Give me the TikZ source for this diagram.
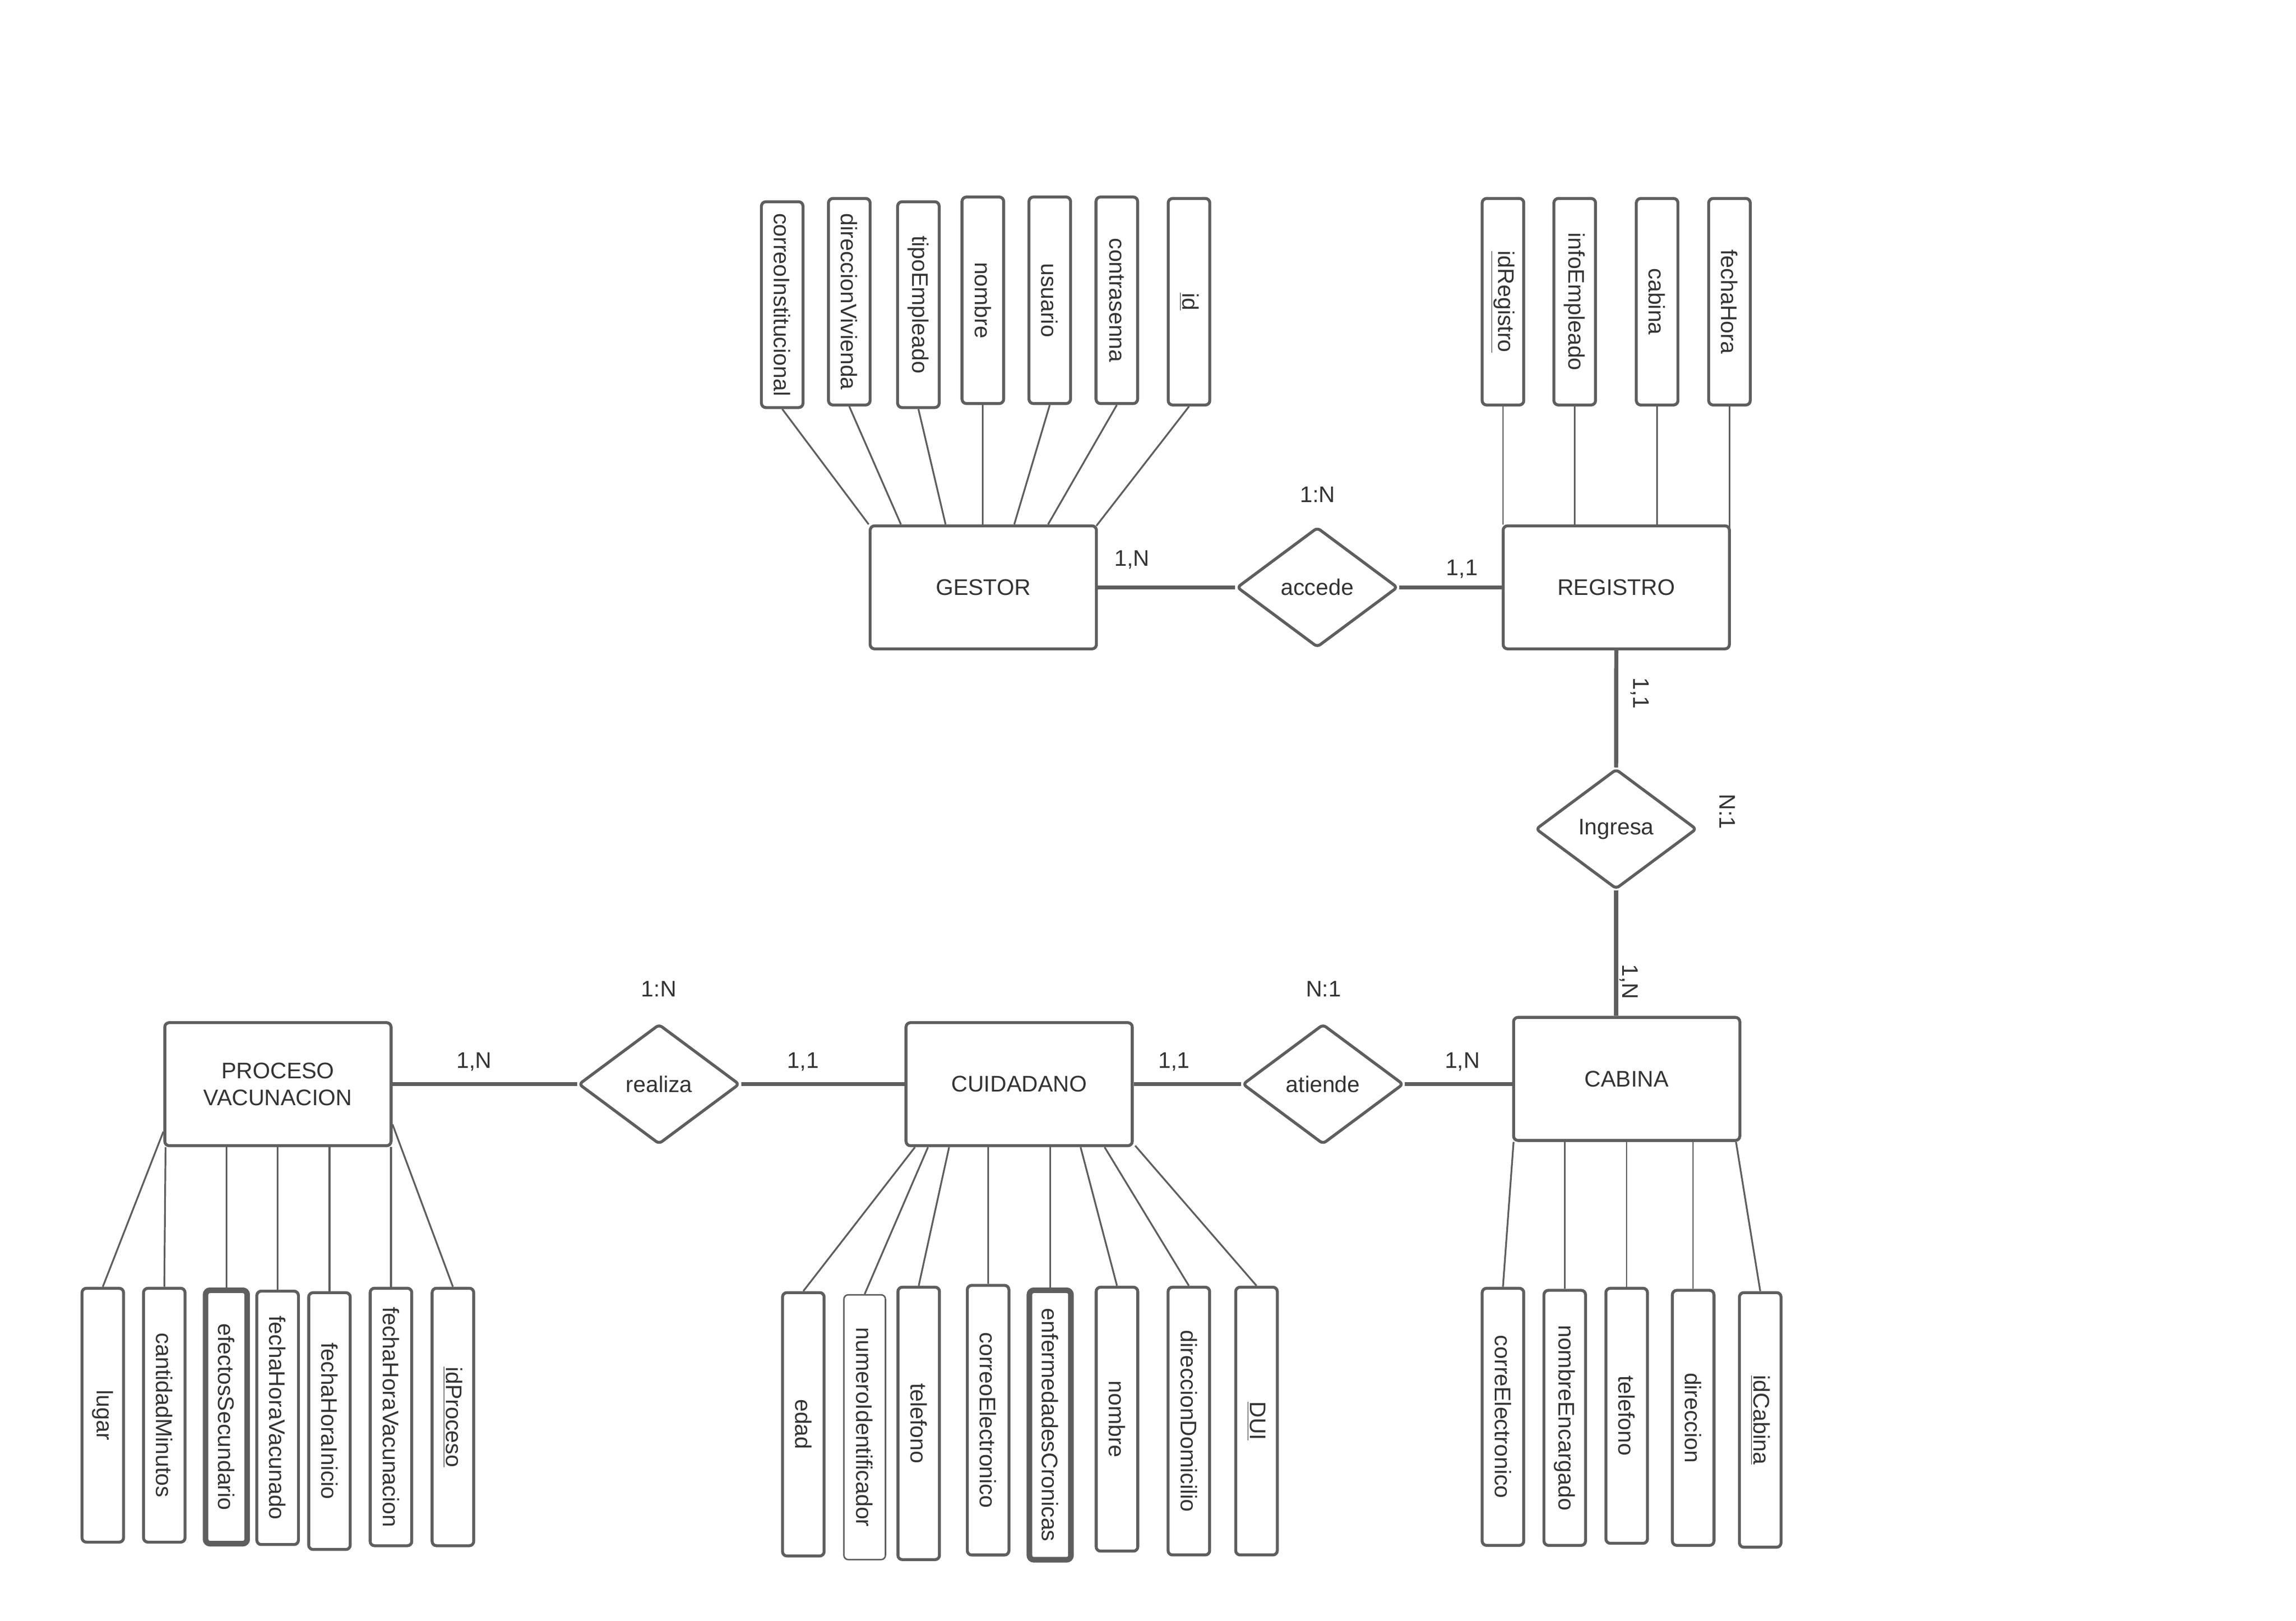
\documentclass[tikz,border=0pt]{standalone}
\usepackage{fontspec}
\setmainfont{Liberation Sans}
\usepackage{graphicx}
\usetikzlibrary{shapes.geometric}
\definecolor{lc}{RGB}{94,94,94}
\definecolor{tc}{RGB}{51,51,51}
\tikzset{
 ent/.style={draw=lc, line width=2pt, rounded corners=3pt, minimum width=154.5pt, minimum height=84pt, inner sep=0pt, align=center, text=tc},
 rel/.style={diamond, draw=lc, line width=2pt, rounded corners=2.5pt, minimum width=110pt, minimum height=82pt, inner sep=0pt, text=tc},
 attr/.style={draw=lc, line width=2pt, rounded corners=3pt, minimum width=28.4pt, inner sep=0pt, text=tc},
 attrk/.style={attr, line width=3.8pt},
 attrl/.style={attr, line width=1pt},
 lnk/.style={draw=lc, line width=1.2pt},
 lnkt/.style={draw=lc, line width=0.9pt},
 rlnk/.style={draw=lc, line width=2.8pt},
 card/.style={text=tc, inner sep=0pt},
}
\begin{document}
\begin{tikzpicture}[x=1pt,y=-1pt, font=\fontsize{15.4}{18.5}\selectfont]
\fill[white] (0,0) rectangle (1568,1106.5);
\useasboundingbox (0,0) rectangle (1568,1106.5);

% entities
\node[ent] (gestor) at (671.5,401) {GESTOR};
\node[ent] (registro) at (1103.8,401) {REGISTRO};
\node[ent] (cabina) at (1110.9,736.6) {CABINA};
\node[ent] (cuidadano) at (696,740.2) {CUIDADANO};
\node[ent] (proceso) at (189.8,740.2) {PROCESO\\VACUNACION};

% relationships
\node[rel] (accede) at (899.6,401) {accede};
\node[rel] (ingresa) at (1103.7,566) {Ingresa};
\node[rel] (realiza) at (450.1,740.2) {realiza};
\node[rel] (atiende) at (903.5,740.2) {atiende};

% relationship connectors
\draw[rlnk] (gestor.east) -- (accede.west);
\draw[rlnk] (accede.east) -- (registro.west);
\draw[rlnk] (registro.south) -- (ingresa.north);
\draw[rlnk] (ingresa.south) -- (ingresa.south |- cabina.north);
\draw[rlnk] (proceso.east) -- (realiza.west);
\draw[rlnk] (realiza.east) -- (cuidadano.west);
\draw[rlnk] (cuidadano.east) -- (atiende.west);
\draw[rlnk] (atiende.east) -- (atiende.east -| cabina.west);

% cardinalities
\node[card] (k1) at (773,382) {1,N};
\node[card] (k2) at (899.9,337.8) {1:N};
\node[card] (k3) at (998.5,388.4) {1,1};
\node[card, rotate=-90] (k4) at (1120,473.3) {1,1};
\node[card, rotate=-90] (k5) at (1179.8,554.2) {N:1};
\node[card, rotate=-90] (k6) at (1112.5,670.3) {1,N};
\node[card] (k7) at (450,675) {1:N};
\node[card] (k8) at (903.9,675) {N:1};
\node[card] (k9) at (323.9,725.1) {1,N};
\node[card] (k10) at (548.4,725.1) {1,1};
\node[card] (k11) at (801.9,725.1) {1,1};
\node[card] (k12) at (998.7,725) {1,N};

% GESTOR attributes
\node[attr, minimum height=140.5pt] (g1) at (534.2,208) {\rotatebox{-90}{correoInstitucional}};
\node[attr, minimum height=141pt] (g2) at (580,206) {\rotatebox{-90}{direccionVivienda}};
\node[attr, minimum height=140.5pt] (g3) at (627.2,208) {\rotatebox{-90}{tipoEmpleado}};
\node[attr, minimum height=141pt] (g4) at (671.2,205) {\rotatebox{-90}{nombre}};
\node[attr, minimum height=141pt] (g5) at (716.9,205) {\rotatebox{-90}{usuario}};
\node[attr, minimum height=141pt] (g6) at (762.7,205) {\rotatebox{-90}{contrasenna}};
\node[attr, minimum height=141pt] (g7) at (812,206) {\rotatebox{-90}{\underline{id}}};
\draw[lnk] (g1.south) -- (gestor.north west);
\draw[lnk] (g2.south) -- ([xshift=22pt]gestor.north west);
\draw[lnk] (g3.south) -- ([xshift=52.5pt]gestor.north west);
\draw[lnk] (g4.south) -- (g4.south |- gestor.north);
\draw[lnk] (g5.south) -- ([xshift=99.4pt]gestor.north west);
\draw[lnk] (g6.south) -- ([xshift=122.5pt]gestor.north west);
\draw[lnk] (g7.south) -- ([xshift=-1pt,yshift=-1pt]gestor.north east);

% REGISTRO attributes
\node[attr, minimum height=141pt] (r1) at (1026.4,206) {\rotatebox{-90}{\underline{idRegistro}}};
\node[attr, minimum height=141pt] (r2) at (1075.4,206) {\rotatebox{-90}{infoEmpleado}};
\node[attr, minimum height=141pt] (r3) at (1131.7,206) {\rotatebox{-90}{cabina}};
\node[attr, minimum height=141pt] (r4) at (1181.1,206) {\rotatebox{-90}{fechaHora}};
\draw[lnkt] (r1.south) -- (r1.south |- registro.north);
\draw[lnkt] (r2.south) -- (r2.south |- registro.north);
\draw[lnkt] (r3.south) -- (r3.south |- registro.north);
\draw[lnkt] (r4.south) -- ([yshift=-4pt]r4.south |- registro.north);

% CABINA attributes
\node[attr, minimum height=175.5pt] (c1) at (1026.4,967.3) {\rotatebox{-90}{correElectronico}};
\node[attr, minimum height=174.1pt] (c2) at (1068.6,968) {\rotatebox{-90}{nombreEncargado}};
\node[attr, minimum height=174.1pt] (c3) at (1110.9,966.6) {\rotatebox{-90}{telefono}};
\node[attr, minimum height=174.1pt] (c4) at (1156.3,968) {\rotatebox{-90}{direccion}};
\node[attr, minimum height=173.8pt] (c5) at (1202.1,969.4) {\rotatebox{-90}{\underline{idCabina}}};
\draw[lnk] (c1.north) -- ([xshift=1pt]cabina.south west);
\draw[lnkt] (c2.north) -- (c2.north |- cabina.south);
\draw[lnkt] (c3.north) -- (c3.north |- cabina.south);
\draw[lnkt] (c4.north) -- (c4.north |- cabina.south);
\draw[lnk] (c5.north) -- ([xshift=-3.6pt]cabina.south east);

% CUIDADANO attributes
\node[attr, minimum height=179.8pt] (u1) at (548.6,972.4) {\rotatebox{-90}{edad}};
\node[attrl, minimum height=180.8pt] (u2) at (590.5,974.4) {\rotatebox{-90}{numeroIdentificador}};
\node[attr, minimum height=186pt] (u3) at (627.4,971.8) {\rotatebox{-90}{telefono}};
\node[attr, minimum height=184.1pt] (u4) at (674.8,969.6) {\rotatebox{-90}{correoElectronico}};
\node[attrk, minimum height=184pt] (u5) at (717.2,972.9) {\rotatebox{-90}{enfermedadesCronicas}};
\node[attr, minimum height=180.2pt] (u6) at (762.8,968.9) {\rotatebox{-90}{nombre}};
\node[attr, minimum height=182.8pt] (u7) at (811.9,970.2) {\rotatebox{-90}{direccionDomicilio}};
\node[attr, minimum height=182.8pt] (u8) at (858.1,970.2) {\rotatebox{-90}{\underline{DUI}}};
\draw[lnk] (u1.north) -- ([xshift=7.1pt]cuidadano.south west);
\draw[lnk] (u2.north) -- ([xshift=16pt]cuidadano.south west);
\draw[lnk] (u3.north) -- ([xshift=30.4pt]cuidadano.south west);
\draw[lnk] (u4.north) -- (u4.north |- cuidadano.south);
\draw[lnk] (u5.north) -- (u5.north |- cuidadano.south);
\draw[lnk] (u6.north) -- ([xshift=120.2pt]cuidadano.south west);
\draw[lnk] (u7.north) -- ([xshift=136.6pt]cuidadano.south west);
\draw[lnk] (u8.north) -- ([xshift=1pt,yshift=1pt]cuidadano.south east);

% PROCESO VACUNACION attributes
\node[attr, minimum height=173.3pt] (p1) at (70.2,966.2) {\rotatebox{-90}{lugar}};
\node[attr, minimum height=173.3pt] (p2) at (112.2,966.2) {\rotatebox{-90}{cantidadMinutos}};
\node[attrk, minimum height=173pt] (p3) at (154.6,967.4) {\rotatebox{-90}{efectosSecundario}};
\node[attr, minimum height=173pt] (p4) at (189.6,968) {\rotatebox{-90}{fechaHoraVacunado}};
\node[attr, minimum height=175.3pt] (p5) at (225,970.2) {\rotatebox{-90}{fechaHoraInicio}};
\node[attr, minimum height=175.8pt] (p6) at (267,967.4) {\rotatebox{-90}{fechaHoraVacunacion}};
\node[attr, minimum height=175.8pt] (p7) at (309.3,967.4) {\rotatebox{-90}{\underline{idProceso}}};
\draw[lnk] (p1.north) -- ([yshift=10.6pt]proceso.south west);
\draw[lnk] (p2.north) -- ([xshift=1.5pt]proceso.south west);
\draw[lnk] (p3.north) -- (p3.north |- proceso.south);
\draw[lnk] (p4.north) -- (p4.north |- proceso.south);
\draw[lnk] (p5.north) -- (p5.north |- proceso.south);
\draw[lnk] (p6.north) -- (p6.north |- proceso.south);
\draw[lnk] (p7.north) -- ([yshift=15.6pt]proceso.south east);
\end{tikzpicture}
\end{document}
